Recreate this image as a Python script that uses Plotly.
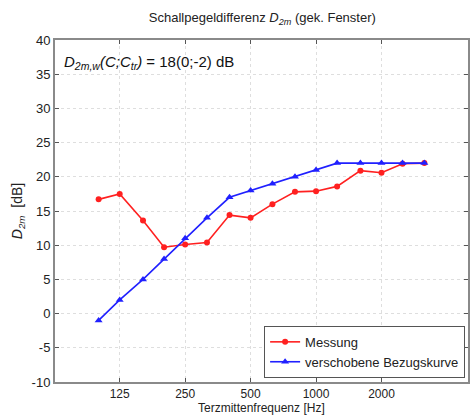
import plotly.graph_objects as go

freqs = [100, 125, 160, 200, 250, 315, 400, 500, 630, 800, 1000, 1250, 1600, 2000, 2500, 3150]
messung = [16.7, 17.5, 13.6, 9.7, 10.1, 10.4, 14.4, 14.0, 16.0, 17.8, 17.9, 18.6, 20.9, 20.6, 21.9, 22.0]
bezug = [-1, 2, 5, 8, 11, 14, 17, 18, 19, 20, 21, 22, 22, 22, 22, 22]
xtick_vals = [125, 250, 500, 1000, 2000]
xtick_text = ["125", "250", "500", "1000", "2000"]
ytick_vals = [-10, -5, 0, 5, 10, 15, 20, 25, 30, 35, 40]
ytick_text = ["-10", "-5", "0", "5", "10", "15", "20", "25", "30", "35", "40"]

FONT = "Liberation Sans, Arial, sans-serif"
TXT = "#222222"

fig = go.Figure()
fig.add_trace(go.Scatter(
    x=freqs, y=messung, mode="lines+markers", name="Messung",
    line=dict(color="#ff2020", width=1.6),
    marker=dict(symbol="circle", size=6, color="#ff2020"),
))
fig.add_trace(go.Scatter(
    x=freqs, y=bezug, mode="lines+markers", name="verschobene Bezugskurve",
    line=dict(color="#2020ff", width=1.6),
    marker=dict(symbol="triangle-up", size=7, color="#2020ff"),
))

axis_common = dict(
    showline=True, linecolor="#8a8a8a", linewidth=2, mirror="ticks",
    ticks="inside", ticklen=4, tickcolor="#555555",
    showgrid=True, gridcolor="#dedede", griddash="dot", gridwidth=1,
    zeroline=False,
)

fig.update_layout(
    width=471, height=417,
    margin=dict(l=55, r=1, t=40, b=35),
    paper_bgcolor="white", plot_bgcolor="white",
    font=dict(family=FONT, size=13, color=TXT),
    title=dict(
        text="Schallpegeldifferenz <i>D</i><sub><i>2m</i></sub> (gek. Fenster)",
        x=0.557, xanchor="center", y=0.957, yanchor="middle",
        font=dict(family=FONT, size=13, color=TXT),
    ),
    xaxis=dict(
        type="log", range=[1.7993, 3.699],
        tickvals=xtick_vals, ticktext=xtick_text,
        tickfont=dict(family=FONT, size=12, color=TXT),
        **axis_common,
    ),
    yaxis=dict(
        range=[-10, 40], tickvals=ytick_vals, ticktext=ytick_text,
        tickfont=dict(family=FONT, size=13, color=TXT),
        title=dict(text="<i>D</i><sub><i>2m</i></sub>  [dB]", standoff=6,
                   font=dict(family=FONT, size=14, color=TXT)),
        **axis_common,
    ),
    legend=dict(
        x=0.993, xanchor="right", y=0.012, yanchor="bottom",
        bgcolor="white", bordercolor="#555555", borderwidth=1,
        font=dict(family=FONT, size=13, color=TXT),
        tracegroupgap=0, itemwidth=30,
    ),
    showlegend=True,
)

fig.add_annotation(
    xref="paper", yref="paper", x=0.5, y=-0.1025, xanchor="center", yanchor="bottom",
    text="Terzmittenfrequenz [Hz]", showarrow=False,
    font=dict(family=FONT, size=12, color=TXT),
)

fig.add_annotation(
    xref="paper", yref="paper", x=0.017, y=0.933, xanchor="left", yanchor="middle",
    text="<i>D</i><sub><i>2m,w</i></sub><i>(C;C</i><sub><i>tr</i></sub><i>)</i> = 18(0;-2) dB",
    showarrow=False, font=dict(family=FONT, size=15, color="#111111"),
)

fig.write_html(
    "out.html",
    config={"displayModeBar": False},
    post_script="document.body.style.margin='0';document.body.style.overflow='hidden';",
)
